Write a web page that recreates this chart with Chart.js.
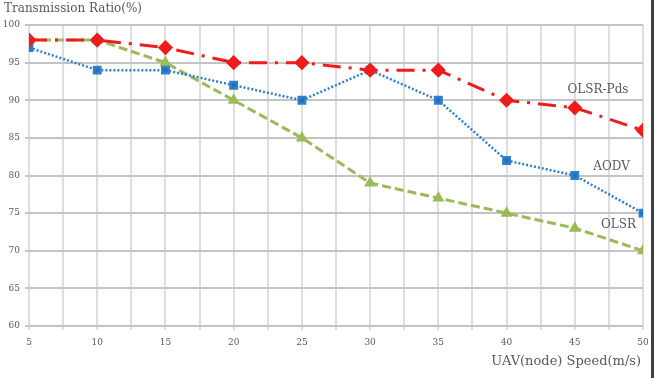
<!DOCTYPE html>
<html><head><meta charset="utf-8">
<script src="https://cdn.jsdelivr.net/npm/chart.js@4/dist/chart.umd.min.js"></script>
<style>html,body{margin:0;padding:0;background:#fff;}#wrap{width:656px;height:378px;position:relative;}</style>
</head><body><div id="wrap"><canvas id="c" width="656" height="378"></canvas></div>
<script>
const speeds = [5, 10, 15, 20, 25, 30, 35, 40, 45, 50];
const olsrPds = [98, 98, 97, 95, 95, 94, 94, 90, 89, 86];
const aodv = [97, 94, 94, 92, 90, 94, 90, 82, 80, 75];
const olsr = [98, 98, 95, 90, 85, 79, 77, 75, 73, 70];
const yTicks = [60, 65, 70, 75, 80, 85, 90, 95, 100];
const seriesNames = ['OLSR-Pds', 'AODV', 'OLSR'];
const yTitle = 'Transmission Ratio(%)';
const xTitle = 'UAV(node) Speed(m/s)';

const pts = arr => speeds.map((s, i) => ({x: s, y: arr[i]}));
const serif = '"DejaVu Serif", "Liberation Serif", serif';

const textPlugin = {
  id: 'texts',
  afterDraw(chart) {
    const ctx = chart.ctx, xs = chart.scales.x, ys = chart.scales.y;
    ctx.save();
    ctx.fillStyle = '#595959';
    ctx.font = '12px ' + serif;
    ctx.textBaseline = 'middle';
    ctx.textAlign = 'left';
    ctx.fillText(yTitle, 4, 9);
    ctx.textAlign = 'right';
    ctx.font = '13px ' + serif;
    ctx.fillText(xTitle, 641, 362);
    ctx.font = '12px ' + serif;
    ctx.textAlign = 'center';
    ctx.fillText(seriesNames[0], xs.getPixelForValue(46.7), ys.getPixelForValue(91.4));
    ctx.fillText(seriesNames[1], xs.getPixelForValue(47.7), ys.getPixelForValue(81.2));
    ctx.fillText(seriesNames[2], xs.getPixelForValue(48.2), ys.getPixelForValue(73.5));
    ctx.strokeStyle = '#404040';
    ctx.lineWidth = 3;
    ctx.beginPath();
    ctx.moveTo(652.5, 0);
    ctx.lineTo(652.5, 378);
    ctx.stroke();
    ctx.restore();
  }
};

new Chart(document.getElementById('c'), {
  type: 'line',
  data: {
    datasets: [
      {label: seriesNames[2], data: pts(olsr), borderColor: '#9bbb59', backgroundColor: '#9bbb59',
       borderWidth: 3, borderDash: [9, 4], pointStyle: 'triangle', pointRadius: 4, order: 3},
      {label: seriesNames[1], data: pts(aodv), borderColor: '#2e7fcc', backgroundColor: '#1f6fc0',
       borderWidth: 2.5, borderDash: [2, 2], pointStyle: 'rect', pointRadius: 4.5, order: 2},
      {label: seriesNames[0], data: pts(olsrPds), borderColor: '#ee1c1c', backgroundColor: '#ee1c1c',
       borderWidth: 3, borderDash: [18, 8, 3, 8], pointStyle: 'rectRot', pointRadius: 5.5, order: 1}
    ]
  },
  options: {
    responsive: false,
    animation: false,
    layout: {padding: {top: 25, right: 13, left: 0, bottom: 0}},
    plugins: {legend: {display: false}, title: {display: false}, tooltip: {enabled: false}},
    scales: {
      x: {
        type: 'linear', min: 5, max: 50,
        afterFit: s => { s.height = 52; },
        ticks: {stepSize: 2.5, autoSkip: false, maxRotation: 0, color: '#595959',
          font: {size: 9, family: serif}, padding: 7,
          callback: v => (v % 5 === 0 ? String(v) : '')},
        grid: {color: '#dedede', lineWidth: 2, tickLength: 4},
        border: {display: false}
      },
      y: {
        min: 60, max: 100,
        afterFit: s => { s.width = 29; },
        afterBuildTicks: s => { s.ticks = yTicks.map(v => ({value: v})); },
        ticks: {color: '#595959', font: {size: 9, family: serif}, padding: 5},
        grid: {color: '#c4c4c4', lineWidth: 2, tickLength: 4},
        border: {display: false}
      }
    }
  },
  plugins: [textPlugin]
});
</script></body></html>
